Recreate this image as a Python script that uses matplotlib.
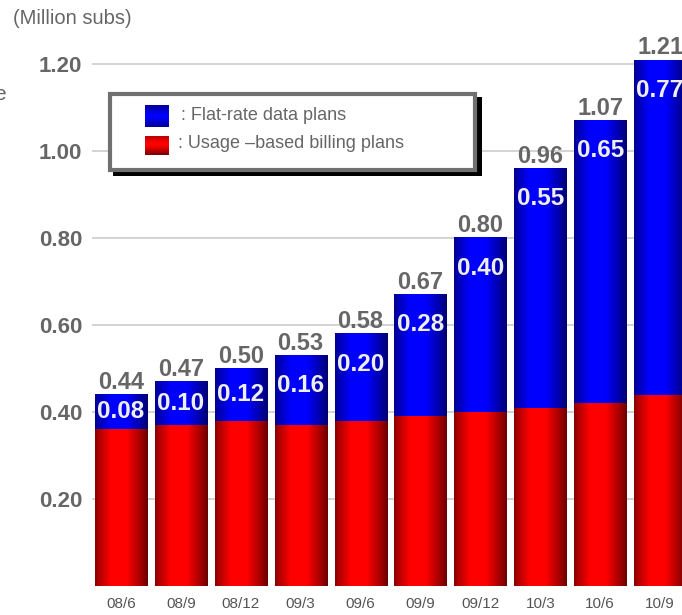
import numpy as np
import matplotlib
matplotlib.use("Agg")
import matplotlib.pyplot as plt
from matplotlib.colors import LinearSegmentedColormap
from matplotlib.patches import Rectangle

plt.rcParams['font.family'] = ['Liberation Sans', 'DejaVu Sans']

# subscriber counts per quarter (million)
quarters = ['08/6', '08/9', '08/12', '09/3', '09/6', '09/9', '09/12', '10/3', '10/6', '10/9']
usage_based = [0.36, 0.37, 0.38, 0.37, 0.38, 0.39, 0.40, 0.41, 0.42, 0.44]
flat_rate = [0.08, 0.10, 0.12, 0.16, 0.20, 0.28, 0.40, 0.55, 0.65, 0.77]
yticks = [0.20, 0.40, 0.60, 0.80, 1.00, 1.20]

W, H = 682, 615
fig = plt.figure(figsize=(W / 100, H / 100), dpi=100)
ax = fig.add_axes([92 / W, (H - 586) / H, (W - 92) / W, 586 / H])

red_cmap = LinearSegmentedColormap.from_list('red', ['#5a0000', '#ff0000'])
blue_cmap = LinearSegmentedColormap.from_list('blue', ['#000060', '#0000ff'])

# horizontal shading across each bar: dark edges, bright centre
t = np.linspace(0, 1, 200)
shade = np.interp(t, [0, 0.05, 0.30, 0.60, 0.86, 1.0], [0.25, 0.45, 1.0, 1.0, 0.45, 0.1])
shade = shade[np.newaxis, :]

x = np.arange(len(quarters))
width = 0.87

red_bars = ax.bar(x, usage_based, width, color='none', zorder=2)
blue_bars = ax.bar(x, flat_rate, width, bottom=usage_based, color='none', zorder=2)

for bars, cmap in [(red_bars, red_cmap), (blue_bars, blue_cmap)]:
    for r in bars:
        x0, y0 = r.get_x(), r.get_y()
        ax.imshow(shade, cmap=cmap, vmin=0, vmax=1, aspect='auto',
                  extent=(x0, x0 + r.get_width(), y0, y0 + r.get_height()),
                  interpolation='bilinear', zorder=2)

for i in range(len(quarters)):
    total = usage_based[i] + flat_rate[i]
    ax.annotate(f'{total:.2f}', (x[i], total), xytext=(0, 4), textcoords='offset points',
                ha='center', va='baseline', fontsize=17, fontweight='bold', color='#666666')
    ylab = max(total - 0.07, usage_based[i] + flat_rate[i] / 2)
    ax.text(x[i], ylab, f'{flat_rate[i]:.2f}', ha='center', va='center',
            fontsize=17.5, fontweight='bold', color='#eeeeee', zorder=3)

ax.set_xlim(-0.484, 9.366)
ax.set_ylim(0, 586 / 435)
ax.set_yticks(yticks)
ax.set_yticklabels([f'{v:.2f}' for v in yticks], fontsize=16, fontweight='bold', color='#666666')
ax.set_xticks(x)
ax.set_xticklabels(quarters, fontsize=11, color='#555555')
ax.tick_params(axis='y', length=0, pad=7)
ax.tick_params(axis='x', length=0, pad=8)
ax.grid(axis='y', color='#cccccc', linewidth=1.2, zorder=0)
ax.set_axisbelow(True)
for s in ax.spines.values():
    s.set_visible(False)

# pixel-space overlay for the legend and captions
ov = fig.add_axes([0, 0, 1, 1])
ov.axis('off')
ov.patch.set_alpha(0)

ov.text(13, 18, '(Million subs)', fontsize=14.5, color='#666666', ha='left', va='center')
ov.text(6, 95, 'e', fontsize=15, color='#666666', ha='right', va='center')

ov.add_patch(Rectangle((113, 97), 369, 79, facecolor='black', edgecolor='none', zorder=1))
ov.add_patch(Rectangle((109.5, 93.5), 365, 76, facecolor='white', edgecolor='#707070',
                       linewidth=3, zorder=2))

tv = np.linspace(0, 1, 100)
blue_sw = np.interp(tv, [0, 0.45, 0.55, 1.0], [0.35, 1.0, 1.0, 0.35])[:, np.newaxis]
red_sw = np.interp(tv, [0, 0.35, 0.5, 1.0], [0.6, 1.0, 1.0, 0.2])[:, np.newaxis]
ov.imshow(blue_sw, cmap=blue_cmap, vmin=0, vmax=1, aspect='auto', origin='upper',
          extent=(145, 169, 127, 105), interpolation='bilinear', zorder=3)
ov.imshow(red_sw, cmap=red_cmap, vmin=0, vmax=1, aspect='auto', origin='upper',
          extent=(145, 169, 155, 136), interpolation='bilinear', zorder=3)
ov.text(181, 116, ': Flat-rate data plans', fontsize=13, color='#666666', ha='left', va='center',
        zorder=4)
ov.text(178, 143, ': Usage \u2013based billing plans', fontsize=13, color='#666666', ha='left',
        va='center', zorder=4)
ov.set_xlim(0, W)
ov.set_ylim(H, 0)

fig.savefig('out.png', dpi=100)
